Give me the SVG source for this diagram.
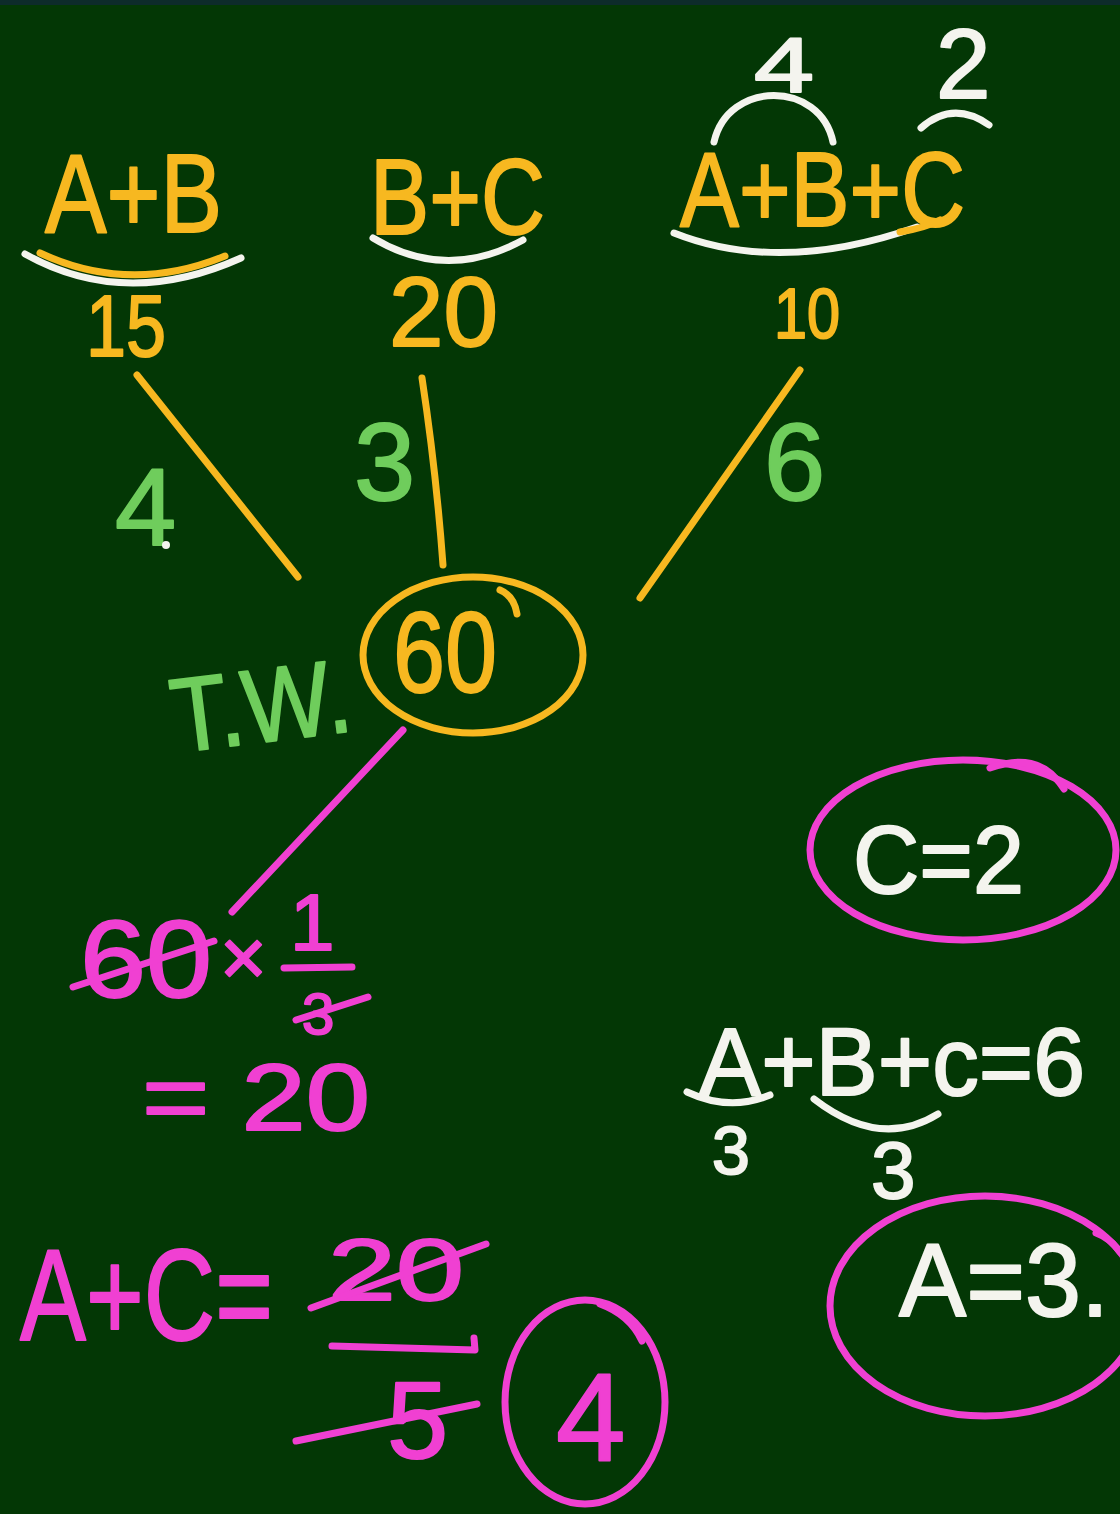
<svg xmlns="http://www.w3.org/2000/svg" width="1120" height="1514" viewBox="0 0 1120 1514">
<style>
text{font-family:"Liberation Sans","DejaVu Sans",sans-serif;stroke-width:2;stroke-linejoin:round}
.y{fill:#f7b820;stroke:#f7b820}.g{fill:#6fcd5c;stroke:#6fcd5c}.m{fill:#f040d2;stroke:#f040d2}.w{fill:#f4f4ee;stroke:#f4f4ee}
.sy{stroke:#f7b820}.sm{stroke:#f040d2}.sw{stroke:#f4f4ee}
.st{fill:none;stroke-width:7;stroke-linecap:round;stroke-linejoin:round}
</style>
<rect width="1120" height="1514" fill="#033705"/>
<rect width="1120" height="5" fill="#0d2b2b"/>

<g id="connectors">
  <path class="st sy" d="M137,375 L298,577"/>
  <path class="st sy" d="M422,378 Q436,470 443,565"/>
  <path class="st sy" d="M800,370 L640,598"/>
  <path class="st sm" d="M403,730 L232,912"/>
  <text class="g" x="115" y="545" font-size="110">4</text>
  <circle cx="166" cy="545" r="4" fill="#f4f4ee"/>
  <text class="g" x="354" y="500" font-size="110">3</text>
  <text class="g" x="764" y="500" font-size="110">6</text>
</g>

<g id="node-ab">
  <text class="y" x="45" y="232" font-size="112" textLength="177" lengthAdjust="spacingAndGlyphs">A+B</text>
  <path class="st sw" stroke-width="9" d="M25,254 Q125,310 241,258"/>
  <path class="st sy" stroke-width="5" d="M40,253 Q130,295 225,256"/>
  <text class="y" x="86" y="356" font-size="88" textLength="80" lengthAdjust="spacingAndGlyphs">15</text>
</g>

<g id="node-bc">
  <text class="y" x="370" y="234" font-size="108" textLength="175" lengthAdjust="spacingAndGlyphs">B+C</text>
  <path class="st sw" d="M373,238 Q446,282 523,240"/>
  <text class="y" x="389" y="346" font-size="98" textLength="109" lengthAdjust="spacingAndGlyphs">20</text>
</g>

<g id="node-abc">
  <text class="w" x="754" y="92" font-size="78" textLength="60" lengthAdjust="spacingAndGlyphs">4</text>
  <text class="w" x="936" y="98" font-size="98">2</text>
  <path class="st sw" d="M714,142 C728,80 820,80 833,142"/>
  <path class="st sw" d="M921,128 Q953,100 989,125"/>
  <text class="y" x="680" y="226" font-size="105" textLength="285" lengthAdjust="spacingAndGlyphs">A+B+C</text>
  <path class="st sw" stroke-width="9" d="M674,233 Q780,275 917,227"/>
  <path class="st sy" stroke-width="5" d="M900,232 Q925,228 940,220"/>
  <text class="y" x="774" y="338" font-size="70" textLength="66" lengthAdjust="spacingAndGlyphs">10</text>
</g>

<g id="node-tw">
  <text class="g" x="170" y="742" font-size="105" textLength="180" lengthAdjust="spacingAndGlyphs" transform="rotate(-7 260 700)">T.W.</text>
  <ellipse class="st sy" cx="473" cy="655" rx="110" ry="78"/>
  <path class="st sy" stroke-width="5" d="M500,590 Q514,596 517,614"/>
  <text class="y" x="393" y="692" font-size="115" textLength="104" lengthAdjust="spacingAndGlyphs">60</text>
</g>

<g id="node-calc">
  <text class="m" x="80" y="997" font-size="110" textLength="132" lengthAdjust="spacingAndGlyphs">60</text>
  <path class="st sm" d="M73,987 L214,941"/>
  <text class="m" x="220" y="985" font-size="80">×</text>
  <text class="m" x="290" y="950" font-size="80">1</text>
  <path class="st sm" d="M284,968 L352,967"/>
  <text class="m" x="302" y="1034" font-size="58">3</text>
  <path class="st sm" d="M296,1020 L368,997"/>
  <text class="m" x="142" y="1130" font-size="94" textLength="228" lengthAdjust="spacingAndGlyphs">= 20</text>
</g>

<g id="node-ac">
  <text class="m" x="20" y="1340" font-size="130" textLength="253" lengthAdjust="spacingAndGlyphs">A+C=</text>
  <text class="m" x="328" y="1300" font-size="88" textLength="136" lengthAdjust="spacingAndGlyphs">20</text>
  <path class="st sm" d="M311,1308 L486,1244"/>
  <path class="st sm" d="M332,1346 L475,1350 L474,1338"/>
  <text class="m" x="387" y="1458" font-size="110">5</text>
  <path class="st sm" d="M296,1441 L477,1404"/>
  <ellipse class="st sm" cx="585" cy="1402" rx="80" ry="102"/>
  <path class="st sm" d="M600,1304 Q630,1315 642,1341"/>
  <text class="m" x="556" y="1460" font-size="125">4</text>
</g>

<g id="node-c2">
  <ellipse class="st sm" cx="963" cy="850" rx="153" ry="90"/>
  <path class="st sm" d="M990,768 Q1040,750 1064,789"/>
  <text class="w" x="853" y="893" font-size="96" textLength="171" lengthAdjust="spacingAndGlyphs">C=2</text>
</g>

<g id="node-a3">
  <text class="w" x="699" y="1095" font-size="97" textLength="386" lengthAdjust="spacingAndGlyphs">A+B+c=6</text>
  <path class="st sw" d="M687,1092 Q730,1112 770,1095"/>
  <text class="w" x="712" y="1174" font-size="68">3</text>
  <path class="st sw" d="M814,1099 Q880,1150 938,1114"/>
  <text class="w" x="871" y="1198" font-size="80">3</text>
  <ellipse class="st sm" cx="985" cy="1306" rx="155" ry="110"/>
  <path class="st sm" d="M1096,1233 Q1110,1238 1120,1252"/>
  <text class="w" x="899" y="1316" font-size="103" textLength="210" lengthAdjust="spacingAndGlyphs">A=3.</text>
</g>
</svg>
